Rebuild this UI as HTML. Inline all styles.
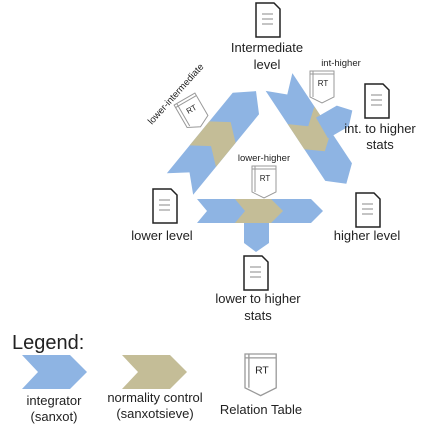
<!DOCTYPE html>
<html><head><meta charset="utf-8"><style>
body{margin:0;background:#fff;}
text{font-family:"Liberation Sans",sans-serif;fill:#222;}
</style></head><body>
<svg width="436" height="435" viewBox="0 0 436 435" xmlns="http://www.w3.org/2000/svg">
<defs>
<g id="doc">
<path d="M0,0 H18 L24,6 V34 H0 Z" fill="#fff" stroke="#222" stroke-width="1.5"/>
<path d="M6,11 H17 M6,16 H17 M6,21 H17" stroke="#888" stroke-width="1"/>
</g>
<g id="rt">
<path d="M0,0 H24 V26 L12,32 L0,26 Z" fill="#fff" stroke="#999" stroke-width="1"/>
<path d="M0,3 H24 M3,0 V26" stroke="#999" stroke-width="1" fill="none"/>
<text x="13" y="15" font-size="8" text-anchor="middle">RT</text>
</g>
</defs>

<!-- left diagonal arrow -->
<g transform="translate(180,184) rotate(-50.7)">
<polygon points="0,-17 104,-17 120,0 104,17 0,17 15,0" fill="#8EB4E3"/>
<polygon points="36,-17 67,-17 80,0 67,17 36,17 49,0" fill="#C4BD97"/>
</g>
<!-- right diagonal arrow -->
<g transform="translate(279,82) rotate(56.5)">
<polygon points="0,-16 108,-16 122,0 108,16 0,16 15,0" fill="#8EB4E3"/>
<polygon points="40,-16 70,-16 83,0 70,16 40,16 53,0" fill="#C4BD97"/>
</g>
<!-- branch to int. to higher stats -->
<g transform="translate(322,128) rotate(-30)">
<polygon points="0,-12 24,-12 35,0 24,12 0,12" fill="#8EB4E3"/>
</g>
<!-- bottom horizontal -->
<polygon points="197,199 311,199 323,211 311,223 197,223 207,211" fill="#8EB4E3"/>
<polygon points="235,199 271,199 283,211 271,223 235,223 245,211" fill="#C4BD97"/>
<polygon points="244,223 269,223 269,243 256,252 244,243" fill="#8EB4E3"/>

<!-- documents -->
<use href="#doc" x="256" y="3"/>
<use href="#doc" x="365" y="84"/>
<use href="#doc" x="153" y="189"/>
<use href="#doc" x="356" y="193"/>
<use href="#doc" x="244" y="256"/>

<!-- labels -->
<text x="267" y="52" font-size="13" text-anchor="middle">Intermediate</text>
<text x="267" y="69" font-size="13" text-anchor="middle">level</text>
<text x="380" y="133" font-size="13" text-anchor="middle">int. to higher</text>
<text x="380" y="149" font-size="13" text-anchor="middle">stats</text>
<text x="162" y="240" font-size="13" text-anchor="middle">lower level</text>
<text x="367" y="240" font-size="13" text-anchor="middle">higher level</text>
<text x="258" y="303" font-size="13" text-anchor="middle">lower to higher</text>
<text x="258" y="320" font-size="13" text-anchor="middle">stats</text>

<!-- RTs -->
<use href="#rt" x="252" y="166"/>
<text x="264" y="161" font-size="9.5" text-anchor="middle">lower-higher</text>
<use href="#rt" x="310" y="71"/>
<text x="341" y="66" font-size="9.5" text-anchor="middle">int-higher</text>
<g transform="translate(192,112) rotate(-30) translate(-12,-15)"><use href="#rt"/></g>
<text x="0" y="0" font-size="9.5" text-anchor="middle" transform="translate(178,96) rotate(-48)">lower-intermediate</text>

<!-- legend -->
<text x="12" y="349" font-size="20">Legend:</text>
<polygon points="22,355 70,355 87,372 70,389 22,389 38,372" fill="#8EB4E3"/>
<polygon points="122,355 170,355 187,372 170,389 122,389 138,372" fill="#C4BD97"/>
<g transform="translate(245,354) scale(1.3)"><use href="#rt"/></g>
<text x="54" y="405" font-size="13" text-anchor="middle">integrator</text>
<text x="54" y="421" font-size="13" text-anchor="middle">(sanxot)</text>
<text x="155" y="402" font-size="13" text-anchor="middle">normality control</text>
<text x="155" y="418" font-size="13" text-anchor="middle">(sanxotsieve)</text>
<text x="261" y="414" font-size="13" text-anchor="middle">Relation Table</text>
</svg>
</body></html>
